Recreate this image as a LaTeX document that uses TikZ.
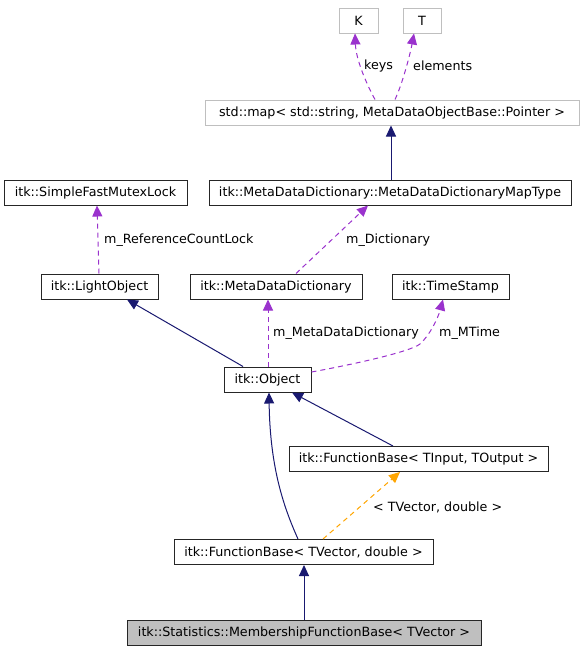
\documentclass[tikz,border=0pt]{standalone}
\usepackage{fontspec}
\setmainfont{DejaVu Sans}
\usetikzlibrary{arrows.meta}
\definecolor{navy}{HTML}{191970}
\definecolor{purp}{HTML}{9A32CD}
\definecolor{orng}{HTML}{FFA500}
\definecolor{gbord}{HTML}{BFBFBF}
\begin{document}
\begin{tikzpicture}[x=1pt,y=-1pt,
  every node/.style={font=\fontsize{12.7}{15}\selectfont},
  box/.style={draw=black!85,line width=1pt,fill=white,inner sep=0pt,minimum height=25pt},
  gbox/.style={box,draw=gbord},
  inh/.style={draw=navy,line width=1pt,-{Triangle[length=11pt,width=10pt]}},
  use/.style={draw=purp,line width=1pt,dash pattern=on 5pt off 4pt,-{Triangle[length=11pt,width=10pt]}},
  tmpl/.style={draw=orng,line width=1pt,dash pattern=on 5pt off 4pt,-{Triangle[length=11pt,width=10pt]}},
  lbl/.style={anchor=west,inner sep=0pt}]
\useasboundingbox (0,0) rectangle (581,653);
\node[gbox,minimum width=39pt] (K) at (358.5,20.5) {K};
\node[gbox,minimum width=38pt] (T) at (422,20.5) {T};
\node[gbox,minimum width=374pt] (map) at (392,112.5) {std::map< std::string, MetaDataObjectBase::Pointer >};
\node[box,minimum width=183pt] (sfml) at (95.5,192.5) {itk::SimpleFastMutexLock};
\node[box,minimum width=362pt] (mapt) at (390,192.5) {itk::MetaDataDictionary::MetaDataDictionaryMapType};
\node[box,minimum width=117pt] (lo) at (99.5,286.5) {itk::LightObject};
\node[box,minimum width=172pt] (mdd) at (276,286.5) {itk::MetaDataDictionary};
\node[box,minimum width=117pt] (ts) at (450.5,286.5) {itk::TimeStamp};
\node[box,minimum width=87pt] (obj) at (267.5,379.5) {itk::Object};
\node[box,minimum width=259pt] (fbio) at (418.5,459) {itk::FunctionBase< TInput, TOutput >};
\node[box,minimum width=259pt] (fbtv) at (303.5,552) {itk::FunctionBase< TVector, double >};
\node[box,minimum width=354pt,fill=gbord] (mem) at (304,633) {itk::Statistics::MembershipFunctionBase< TVector >};
% edges
\draw[use] (map.north -| 375,0) .. controls (367,85) and (356,60) .. (K.south -| 355,0);
\node[lbl] at (364,66) {keys};
\draw[use] (map.north -| 395,0) .. controls (402,85) and (410,55) .. (T.south -| 414,0);
\node[lbl] at (413,66) {elements};
\draw[inh] (mapt.north -| 391,0) -- (map.south -| 391,0);
\draw[use] (lo.north -| 99,0) -- (sfml.south -| 97,0);
\node[lbl] at (104,240) {m\_ReferenceCountLock};
\draw[use] (mdd.north -| 296,0) -- (mapt.south -| 368,0);
\node[lbl] at (346,240) {m\_Dictionary};
\draw[inh] (obj.north -| 243,0) -- (lo.south -| 127,0);
\draw[use] (obj.north -| 268,0) -- (mdd.south -| 268,0);
\node[lbl] at (273,333) {m\_MetaDataDictionary};
\draw[use] (obj.east |- 0,372) .. controls (350,365) and (410,352) .. (420,344) .. controls (430,335) and (438,318) .. (ts.south -| 443,0);
\node[lbl] at (439,333) {m\_MTime};
\draw[inh] (fbio.north -| 393,0) -- (obj.south -| 292,0);
\draw[inh] (fbtv.north -| 298,0) .. controls (285,510) and (270,470) .. (obj.south -| 269,0);
\draw[tmpl] (fbtv.north -| 323,0) -- (fbio.south -| 400,0);
\node[lbl] at (373,507) {< TVector, double >};
\draw[inh] (mem.north -| 304,0) -- (fbtv.south -| 304,0);
\end{tikzpicture}
\end{document}
